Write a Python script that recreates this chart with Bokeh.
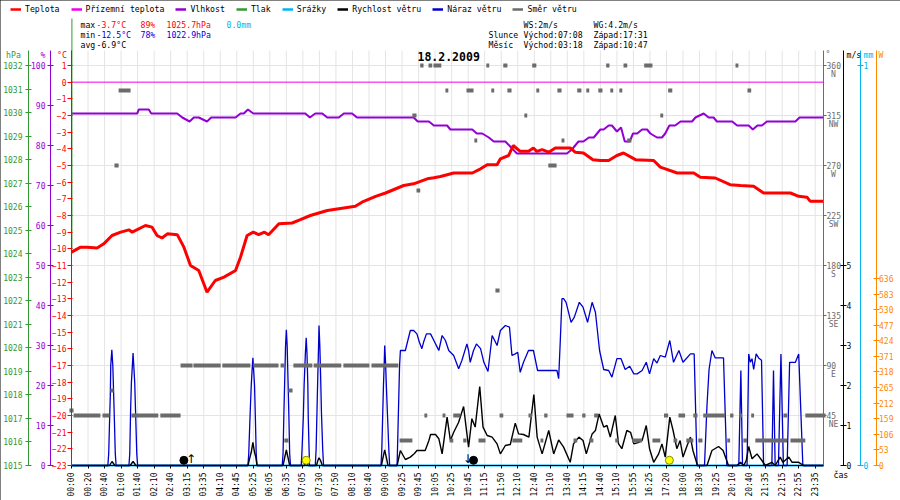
import math
from bokeh.plotting import figure
from bokeh.models import (Range1d, LinearAxis, FixedTicker, Label, Legend,
                          LegendItem)
from bokeh.embed import file_html
from bokeh.resources import INLINE
from bokeh.core.properties import value

# ------------------------------------------------------------------ data
time_labels = ["00:00", "00:20", "00:40", "01:00", "01:40", "02:10", "02:40", "03:15",
               "03:35", "04:10", "04:45", "05:25", "06:05", "06:35", "07:05", "07:30",
               "07:50", "08:10", "08:40", "09:00", "09:25", "09:45", "10:05", "10:25",
               "10:45", "11:15", "11:50", "12:10", "12:40", "13:10", "13:40", "14:15",
               "14:40", "15:10", "15:55", "16:25", "17:20", "18:00", "18:30", "19:25",
               "20:10", "20:40", "21:35", "22:15", "22:55", "23:35"]
SAMPLES_PER_TICK = 4   # x is the sample number, one label every 4 samples
N_SAMPLES = 182

temp_s = [0, 2.2, 3.8, 6.2, 7.8, 9.8, 11.9, 13.9, 14.7, 17.9, 19.5, 20.7, 21.9, 23.2, 25.6,
          27.2, 28.8, 30.8, 32.8, 34.8, 36.9, 39.7, 40.9, 42.5, 44.0, 45.3, 46.7, 47.7, 50.2,
          53.4, 55.4, 57.8, 61.9, 65.9, 68.7, 70.3, 73.6, 76.0, 80.4, 82.8, 86.1, 87.7, 89.3,
          92.5, 97.0, 99.0, 100.6, 103.0, 103.8, 105.8, 106.9, 108.6, 110.6, 111.8, 112.6,
          113.9, 115.5, 117.1, 120.7, 121.9, 123.9, 126.2, 128.0, 130.0, 132.0, 133.6, 136.5,
          140.9, 142.5, 146.6, 150.6, 152.2, 155.8, 159.4, 161.9, 165.1, 167.5, 174.0, 176.0,
          178.0, 178.8, 182]
temp_c = [-10.2, -9.9, -9.9, -9.95, -9.7, -9.2, -9.0, -8.86, -9.0, -8.6, -8.7, -9.2, -9.35,
          -9.1, -9.15, -9.9, -11.0, -11.3, -12.6, -11.9, -11.7, -11.3, -10.5, -9.2, -9.0,
          -9.15, -9.0, -9.15, -8.5, -8.45, -8.25, -8.0, -7.7, -7.55, -7.45, -7.2, -6.85,
          -6.65, -6.2, -6.1, -5.8, -5.74, -5.66, -5.45, -5.45, -5.2, -4.95, -4.95, -4.6,
          -4.4, -3.8, -4.15, -4.15, -3.95, -4.15, -4.05, -4.2, -3.95, -3.95, -4.2, -4.25,
          -4.65, -4.7, -4.7, -4.4, -4.25, -4.65, -4.7, -5.1, -5.45, -5.45, -5.7, -5.75,
          -6.15, -6.2, -6.25, -6.65, -6.65, -6.85, -6.9, -7.15, -7.15]

hum_s = [0, 15.9, 16.3, 18.7, 19.3, 25.6, 26.8, 28.6, 29.6, 30.8, 32.8, 33.8, 39.7, 40.9,
         41.7, 42.7, 44.0, 56.6, 57.7, 59.0, 60.7, 61.9, 64.7, 65.9, 67.9, 69.1, 82.8, 83.8,
         86.5, 87.7, 90.9, 91.7, 97.0, 98.1, 99.4, 101.0, 102.2, 105.0, 107.8, 119.9, 121.1,
         122.7, 123.9, 125.2, 126.4, 128.0, 128.8, 130.0, 130.8, 132.0, 133.0, 133.9, 135.1,
         135.9, 136.9, 138.1, 139.3, 140.1, 141.7, 142.9, 143.7, 144.7, 146.1, 147.4, 150.2,
         151.0, 153.0, 154.2, 155.4, 156.2, 159.9, 161.1, 163.9, 164.9, 166.0, 167.1, 168.3,
         175.2, 176.2, 182]
hum_pct = [88, 88, 89, 89, 88, 88, 87, 86, 87, 87, 86, 87, 87, 88, 88, 89, 88, 88, 87, 88,
           88, 87, 87, 88, 88, 87, 87, 86, 86, 85, 85, 84, 84, 83, 83, 82, 81, 81, 78, 78,
           79, 81, 81, 82, 82, 84, 84, 85, 85, 83.5, 84.5, 81, 81, 83, 83, 84, 84, 83, 82, 82,
           83, 85, 85, 86, 86, 87, 88, 87, 87, 86, 86, 85, 85, 84, 85, 85, 86, 86, 87, 87]

gust_s = [0, 8.8, 9.0, 9.2, 9.4, 9.5, 9.76, 10.0, 10.2, 10.4, 10.6, 10.8,
          13.9, 14.1, 14.3, 14.5, 14.7, 14.9, 15.1, 15.3, 15.5, 15.8, 16.0,
          42.7, 42.9, 43.2, 43.5, 43.7, 43.9, 44.1, 44.3, 44.5, 44.7, 44.9,
          51.0, 51.2, 51.4, 51.6, 51.8, 52.0, 52.2, 52.4, 52.6, 52.8, 53.0,
          55.6, 55.8, 56.1, 56.3, 56.6, 56.8, 57.0, 57.2, 57.3, 57.5, 57.6,
          59.0, 59.2, 59.4, 59.6, 59.8, 59.9, 60.1, 60.3, 60.5, 60.8, 61.0,
          74.9, 75.1, 75.3, 75.5, 75.7, 75.8, 76.0, 76.2, 76.5, 76.8, 77.0,
          78.8, 79.4, 79.6, 80.8, 82.0, 82.8, 83.6, 84.2, 84.8, 85.2, 85.9, 86.9, 87.7, 88.5,
          88.9, 89.7, 90.5, 91.3, 92.5, 93.7, 94.5, 95.7, 96.1, 96.5, 97.3, 98.0, 99.0, 99.8,
          100.8, 101.8, 102.3, 103.0, 103.8, 105.0, 106.0, 106.6, 107.4, 108.0, 108.6, 109.4,
          110.6, 111.8, 112.8, 117.5, 117.9, 118.3, 118.7, 119.1, 119.7, 120.9, 121.7, 122.9,
          123.8, 124.9, 126.0, 126.8, 127.8, 128.8, 130.0, 130.8, 132.0, 133.0, 134.0, 135.1,
          136.1, 136.9, 138.1, 139.1, 139.9, 140.9, 141.7, 142.5, 143.7, 144.8, 145.7, 147.0,
          148.0, 149.8, 150.7, 151.4, 153.2, 153.8, 154.3, 155.0, 155.8, 157.8, 158.6, 161.5,
          162.0, 162.4, 163.5, 163.9, 164.3, 164.7, 165.1, 165.7, 166.3, 167.0, 167.5, 169.5,
          169.9, 170.3, 171.1, 171.7, 172.3, 173.2, 173.8, 175.2, 176.0, 177.0, 182]
gust_ms = [0, 0, 0.29, 1.06, 1.79, 2.5, 2.89, 2.5, 1.79, 1.06, 0.29, 0,
           0, 0.29, 1.36, 2.08, 2.44, 2.81, 2.44, 2.08, 1.36, 0.29, 0,
           0, 0.3, 1.2, 2.0, 2.36, 2.69, 2.36, 2.0, 1.2, 0.3, 0,
           0, 0.3, 1.29, 2.13, 2.98, 3.39, 2.98, 2.13, 1.29, 0.3, 0,
           0, 0.4, 1.2, 2.0, 2.79, 3.19, 2.79, 2.0, 1.2, 0.4, 0,
           0, 0.4, 1.3, 2.2, 3.0, 3.5, 3.0, 2.2, 1.3, 0.4, 0,
           0, 0.4, 1.2, 2.0, 2.6, 3.0, 2.6, 2.0, 1.2, 0.4, 0,
           0, 2.5, 2.875, 2.875, 3.375, 3.375, 3.29, 3.08, 2.92, 3.08, 3.29, 3.29, 3.125, 2.96,
           2.875, 3.25, 3.125, 2.875, 2.75, 2.42, 2.63, 3.04, 2.875, 2.58, 2.875, 3.04, 2.92,
           2.58, 2.35, 3.25, 3.15, 3.0, 3.375, 3.5, 3.46, 2.75, 2.79, 2.83, 2.33, 2.58, 2.875,
           2.875, 2.375, 2.375, 2.17, 3.125, 4.17, 4.17, 4.08, 3.58, 3.71, 4.08, 3.96, 3.58,
           4.08, 3.83, 2.875, 2.40, 2.375, 2.21, 2.67, 2.67, 2.40, 2.48, 2.29, 2.29, 2.375,
           2.58, 2.29, 2.67, 2.56, 2.75, 2.71, 3.125, 2.58, 2.875, 2.58, 2.79, 2.79, 0, 0, 1.5,
           2.4, 2.875, 2.69, 2.69, 0, 0, 2.375, 0, 0, 2.79, 2.58, 2.67, 2.40, 2.79, 2.69, 2.63,
           0, 0, 2.375, 0, 0, 2.79, 0, 0, 2.58, 2.58, 2.79, 0, 0]

wind_s = [0, 9.2, 9.8, 10.5, 14.2, 14.9, 15.6, 42.7, 43.2, 43.5, 43.9, 44.3, 44.6, 44.9,
          51.2, 51.6, 52.0, 52.4, 52.8, 56.3, 56.8, 57.3, 59.3, 59.6, 59.9, 60.3, 60.7, 75.0,
          75.4, 75.8, 76.2, 76.6, 78.8, 79.6, 80.8, 82.0, 83.0, 83.6, 85.6, 86.5, 86.9, 88.1,
          88.9, 89.7, 90.9, 91.7, 92.5, 93.7, 94.9, 95.5, 96.1, 96.9, 97.7, 98.8, 99.6, 100.6,
          101.8, 103.0, 103.8, 105.0, 106.2, 107.4, 108.2, 109.4, 110.7, 111.9, 112.7, 113.9,
          115.5, 116.7, 117.9, 119.1, 120.7, 121.5, 122.8, 123.8, 124.6, 126.0, 126.8, 127.7,
          128.8, 129.6, 130.4, 131.6, 132.4, 133.2, 134.4, 135.3, 136.1, 137.3, 138.1, 139.1,
          139.9, 140.9, 142.1, 142.9, 143.7, 144.8, 145.6, 146.5, 147.3, 148.0, 149.0, 149.8,
          150.4, 151.5, 153.8, 155.0, 156.6, 157.7, 159.0, 161.0, 161.9, 162.7, 163.3, 163.9,
          164.7, 165.9, 167.1, 167.9, 169.5, 170.3, 171.5, 172.2, 173.6, 174.4, 176.0, 177.2,
          182]
wind_ms = [0, 0, 0.1, 0, 0, 0.1, 0, 0, 0.21, 0.33, 0.58, 0.33, 0.21, 0, 0, 0.2, 0.39, 0.2, 0,
           0, 0.06, 0, 0, 0.12, 0.19, 0.12, 0, 0, 0.2, 0.39, 0.2, 0, 0, 0.375, 0.15, 0.21, 0.3,
           0.375, 0.375, 0.625, 0.775, 0.775, 0.67, 0.29, 1.21, 0.625, 0.83, 1.08, 1.475, 0.96,
           0.46, 1.17, 0.96, 1.975, 0.96, 0.75, 0.71, 0.54, 0.29, 0.5, 0.525, 1.06, 0.79, 0.775,
           0.71, 1.775, 0.71, 0.29, 0.875, 0.29, 0.64, 0.46, 0.08, 0.54, 0.71, 0.625, 0.29,
           0.79, 0.875, 1.29, 0.96, 1.0, 0.71, 1.25, 0.54, 0.42, 0.875, 0.83, 0.54, 0.58, 0.625,
           1.0, 0.42, 0.08, 0.29, 0.54, 0.21, 1.21, 0.875, 0.42, 0.625, 0.21, 0.5, 0.71, 0.375,
           0, 0, 0.375, 0.475, 0.375, 0, 0, 0.08, 0, 0.125, 0.475, 0.17, 0.29, 0.125, 0, 0.08,
           0, 0.21, 0.08, 0.21, 0.08, 0.08, 0, 0]

# wind direction: runs of samples (start, end) with the same direction in degrees
dir_start = [-0.5, 0.5, 7.5, 9.4, 10.4, 11.4, 14.5, 21.5, 26.4, 29.5, 36.5, 44.0, 50.6, 51.5,
             52.5, 53.7, 58.6, 65.8, 72.6, 79.4, 82.5, 83.5, 84.4, 85.4, 86.4, 87.6, 89.8,
             90.5, 91.5, 92.4, 94.8, 95.6, 97.5, 98.5, 100.4, 101.6, 102.6, 103.6, 104.5, 105.5,
             106.7, 109.6, 110.6, 111.5, 112.5, 113.5, 114.4, 115.4, 117.6, 118.6, 119.8, 121.5,
             122.4, 123.6, 124.6, 125.3, 126.5, 127.5, 129.4, 130.4, 131.6, 132.6, 133.6, 134.5,
             135.7, 138.6, 140.6, 142.5, 143.4, 144.4, 145.7, 146.9, 148.8, 150.5, 151.7, 152.9,
             158.7, 159.4, 160.7, 161.6, 162.6, 163.6, 164.5, 165.5, 172.3, 174.0, 177.6]
dir_end = [0.5, 7.0, 9.2, 10.2, 11.4, 14.3, 21.0, 26.4, 29.3, 36.1, 43.3, 50.1, 51.5, 52.5,
           53.5, 58.3, 65.3, 72.1, 79.1, 82.5, 83.5, 84.4, 85.2, 86.1, 87.3, 89.5, 90.5, 91.2,
           92.4, 94.1, 95.6, 97.3, 98.2, 100.2, 101.1, 102.3, 103.6, 104.5, 105.5, 106.5, 109.1,
           110.3, 111.5, 112.5, 113.2, 114.2, 115.2, 117.4, 118.6, 119.3, 121.5, 122.4, 123.4,
           124.4, 125.3, 126.3, 127.5, 128.5, 130.2, 131.1, 132.4, 133.3, 134.5, 135.5, 138.1,
           140.6, 142.5, 143.2, 144.4, 145.4, 146.6, 148.5, 150.5, 151.5, 152.7, 158.2, 159.4,
           160.2, 161.4, 162.3, 163.5, 164.5, 165.2, 173.2, 173.2, 177.6, 182.5]
dir_deg = [49.5, 45, 45, 67.5, 270, 337.5, 45, 45, 90, 90, 90, 90, 90, 22.5, 67.5, 90, 90, 90,
           90, 22.5, 315, 247.5, 360, 45, 360, 360, 45, 337.5, 22.5, 45, 22.5, 337.5, 292.5,
           22.5, 360, 337.5, 157.5, 45, 360, 337.5, 22.5, 315, 45, 360, 337.5, 22.5, 45, 270,
           337.5, 292.5, 45, 22.5, 337.5, 45, 337.5, 22.5, 45, 337.5, 360, 337.5, 22.5, 337.5,
           360, 292.5, 22.5, 360, 22.5, 315, 45, 337.5, 22.5, 45, 22.5, 45, 22.5, 45, 22.5, 45,
           360, 45, 22.5, 337.5, 45, 22.5, 45, 22.5, 45]

ground_s = [0, 182]
ground_c = [0.0, 0.0]
rain_s = [0, 182]
rain_mm = [0.0, 0.0]
pres_s = [0.1, 0.1]
pres_hpa = [1024.2, 1034.0]

# sun / moon rise and set (sample position)
event_s = [27.2, 56.8, 97.3, 144.7]
event_body = ["moon", "sun", "moon", "sun"]
arrow_s = [28.9, 95.9]
arrow_sym = ["\u2191", "\u2193"]

date_txt = "18.2.2009"
t_max, t_min, t_avg = -3.7, -12.5, -6.9
h_max, h_min = 89, 78
p_max, p_min = 1025.7, 1022.9
rain_total = 0.0
ws_max, wg_max = 2, 4.2
sun_rise, sun_set = "07:08", "17:31"
moon_rise, moon_set = "03:18", "10:47"

compass = [(360, "N"), (315, "NW"), (270, "W"), (225, "SW"), (180, "S"), (135, "SE"),
           (90, "E"), (45, "NE")]

# value span of every scale across the plotting area (bottom, top)
SPAN_TEMP = (-23, 1.9)
SPAN_HUM = (0, 103.75)
SPAN_PRES = (1015, 1032.64)
SPAN_DIR = (0, 373.5)
SPAN_WS = (0, 10.375)
SPAN_MM = (0, 1.0375)
SPAN_W = (0, 1411.4)

# ------------------------------------------------------------------ layout / styling
FONT = "DejaVu Sans Mono"
C_TEMP = "#ff0000"
C_GROUND = "#ee00ee"
C_HUM = "#9400d3"
C_PRES = "#339933"
C_RAIN = "#00b4f0"
C_GUST = "#0000cc"
C_DIR = "#6b6b6b"
C_W = "#ff8800"
C_MIN = "#0000dd"
GRID = "#e4e4e4"

W, H = 900, 500
PLOT_L, PLOT_R, PLOT_T, PLOT_B = 71, 823, 50, 465     # plotting area in canvas pixels
AX_PX = {"pres": 28, "hum": 50, "temp": 71, "dir": 823, "ws": 843, "mm": 860, "w": 875.5}

SPX = N_SAMPLES / (PLOT_R - PLOT_L)


def s_at(px):
    return (px - PLOT_L) * SPX


def full_range(span):
    lo, hi = span
    u = (hi - lo) / (PLOT_B - PLOT_T)
    return Range1d(lo - (H - PLOT_B) * u, hi + PLOT_T * u)


p = figure(width=W, height=H, output_backend="svg", toolbar_location=None,
           x_range=Range1d(s_at(0), s_at(W)), y_range=full_range(SPAN_TEMP),
           min_border=0, min_border_left=0, min_border_right=0,
           min_border_top=0, min_border_bottom=0)
p.styles = {"outline": "1px solid black", "outline-offset": "-1px"}
p.outline_line_color = None
p.grid.visible = False
p.extra_y_ranges = {"hum": full_range(SPAN_HUM), "pres": full_range(SPAN_PRES),
                    "dir": full_range(SPAN_DIR), "ws": full_range(SPAN_WS),
                    "mm": full_range(SPAN_MM), "w": full_range(SPAN_W)}

# grid lines restricted to the plotting area
xticks = [i * SAMPLES_PER_TICK for i in range(len(time_labels))]
gy = [1, -2, -5, -8, -11, -14, -17, -20]
p.segment(x0=xticks, y0=[SPAN_TEMP[0]] * len(xticks), x1=xticks,
          y1=[SPAN_TEMP[1]] * len(xticks), line_color=GRID, line_width=1)
p.segment(x0=[0] * len(gy), y0=gy, x1=[N_SAMPLES] * len(gy), y1=gy,
          line_color=GRID, line_width=1)

# x axis
xa = p.xaxis[0]
xa.fixed_location = SPAN_TEMP[0]
xa.bounds = (0, N_SAMPLES)
xa.ticker = FixedTicker(ticks=xticks)
xa.major_label_overrides = {t: lab for t, lab in zip(xticks, time_labels)}
xa.major_label_orientation = math.pi / 2
xa.major_label_text_font = FONT
xa.major_label_text_font_size = "8px"
xa.major_label_text_color = "black"
xa.major_tick_in = 0
xa.major_tick_out = 3
xa.major_label_standoff = 4
xa.minor_tick_line_color = None
xa.axis_line_color = "black"


def style_axis(ax, color, ticks, standoff, tick_in=3, tick_out=3):
    ax.ticker = FixedTicker(ticks=ticks)
    ax.axis_line_color = color
    ax.major_tick_line_color = color
    ax.major_label_text_color = color
    ax.major_label_text_font = FONT
    ax.major_label_text_font_size = "8px"
    ax.minor_tick_line_color = None
    ax.major_tick_in = tick_in
    ax.major_tick_out = tick_out
    ax.major_label_standoff = standoff


ya = p.yaxis[0]
ya.fixed_location = s_at(AX_PX["temp"])
ya.bounds = SPAN_TEMP
style_axis(ya, C_TEMP, list(range(-23, 2)), 1, tick_in=1, tick_out=4)


def extra_axis(name, side, span, color, ticks, standoff, tick_in=3, tick_out=3):
    ax = LinearAxis(y_range_name=name, fixed_location=s_at(AX_PX[name]), bounds=span)
    style_axis(ax, color, ticks, standoff, tick_in, tick_out)
    p.add_layout(ax, side)
    return ax


extra_axis("hum", "left", SPAN_HUM, C_HUM, list(range(0, 101, 10)), 2)
extra_axis("pres", "left", SPAN_PRES, C_PRES, list(range(1015, 1033)), 3)
extra_axis("dir", "right", SPAN_DIR, C_DIR, [d for d, _ in compass], 0, tick_in=0)
extra_axis("ws", "right", SPAN_WS, "black", list(range(0, 6)), 0)
extra_axis("mm", "right", SPAN_MM, C_RAIN, [0, 1], 0)
extra_axis("w", "right", SPAN_W, C_W, list(range(0, 637, 53)), 0)

# ------------------------------------------------------------------ series
r_ground = p.line(ground_s, ground_c, color=C_GROUND, line_width=1)
r_rain = p.line(rain_s, rain_mm, y_range_name="mm", color=C_RAIN, line_width=2)
r_gust = p.line(gust_s, gust_ms, y_range_name="ws", color=C_GUST, line_width=1.3)
r_wind = p.line(wind_s, wind_ms, y_range_name="ws", color="black", line_width=1.4)
r_hum = p.line(hum_s, hum_pct, y_range_name="hum", color=C_HUM, line_width=2)
r_temp = p.line(temp_s, temp_c, color=C_TEMP, line_width=3)
dir_x = [(a + b) / 2 for a, b in zip(dir_start, dir_end)]
dir_w = [b - a for a, b in zip(dir_start, dir_end)]
r_dir = p.rect(x=dir_x, y=dir_deg, width=dir_w, height=4, height_units="screen",
               y_range_name="dir", fill_color=C_DIR, line_color=None)
ev_fill = ["black" if b == "moon" else "#ffff00" for b in event_body]
ev_line = ["black" if b == "moon" else "#8a8a00" for b in event_body]
p.scatter(x=event_s, y=[0.13] * len(event_s), y_range_name="ws", size=8,
          fill_color=ev_fill, line_color=ev_line, line_width=1)
p.text(x=arrow_s, y=[0, 0], text=arrow_sym, y_range_name="ws",
       text_font=value("DejaVu Sans"), text_font_size="12px", text_baseline="bottom",
       text_align="center", text_color="black")
r_pres = p.line(pres_s, pres_hpa, y_range_name="pres", color=C_PRES, line_width=1)

# ------------------------------------------------------------------ legend
TXT = "8.2px"
LH = 1.164 * 8.2
NAN = float("nan")

leg_specs = [("Teplota", C_TEMP), ("P\u0159\u00edzemn\u00ed teplota", C_GROUND),
             ("Vlhkost", C_HUM), ("Tlak", C_PRES), ("Sr\u00e1\u017eky", C_RAIN),
             ("Rychlost v\u011btru", "black"), ("N\u00e1raz v\u011btru", C_GUST),
             ("Sm\u011br v\u011btru", C_DIR)]
items = []
for lab, col in leg_specs:
    # legend sample line (a single undefined point, so nothing is drawn in the plot)
    rr = p.line(x=[NAN], y=[NAN], color=col, line_width=2.5)
    items.append(LegendItem(label=lab, renderers=[rr]))
legend = Legend(items=items, location=(10, H - 9 - LH / 2),
                orientation="horizontal", glyph_width=11, glyph_height=8,
                label_standoff=4, spacing=11, padding=0, margin=0,
                border_line_color=None, background_fill_alpha=0,
                label_text_font=FONT, label_text_font_size=TXT, label_height=8,
                label_width=1, label_text_color="black")
p.add_layout(legend)


def add_text(text, x, y_mid, color="black", size=TXT, style="normal", align="left"):
    p.add_layout(Label(x=x, y=H - y_mid, x_units="screen", y_units="screen", text=text,
                       text_color=color, text_font=FONT, text_font_size=size,
                       text_font_style=style, text_align=align, text_baseline="middle"))


add_text("max", 80, 24)
add_text(f"{t_max}\u00b0C", 96, 24, C_TEMP)
add_text(f"{h_max}%", 140, 24, C_TEMP)
add_text(f"{p_max}hPa", 166, 24, C_TEMP)
add_text(f"{rain_total:.1f}mm", 226, 24, C_RAIN)
add_text("min", 80, 34)
add_text(f"{t_min}\u00b0C", 96, 34, C_MIN)
add_text(f"{h_min}%", 140, 34, C_MIN)
add_text(f"{p_min}hPa", 166, 34, C_MIN)
add_text("avg", 80, 44)
add_text(f"{t_avg}\u00b0C", 96, 44)
add_text(f"WS:{ws_max}m/s", 523, 24)
add_text(f"WG:{wg_max}m/s", 593, 24)
add_text("Slunce", 488, 34)
add_text(f"V\u00fdchod:{sun_rise}", 523, 34)
add_text(f"Z\u00e1pad:{sun_set}", 593, 34)
add_text("M\u011bs\u00edc", 488, 44)
add_text(f"V\u00fdchod:{moon_rise}", 523, 44)
add_text(f"Z\u00e1pad:{moon_set}", 593, 44)

add_text(date_txt, 417, 56, size="11.5px", style="bold")

# axis units
add_text("hPa", 13, 54.5, C_PRES, align="center")
add_text("%", 42.5, 54.5, C_HUM, align="center")
add_text("\u00b0C", 61.5, 54.5, C_TEMP, align="center")
add_text("\u00b0", 825, 53, C_DIR)
add_text("m/s", 846, 54.5, "black")
add_text("mm", 863, 54.5, C_RAIN)
add_text("W", 878, 54.5, C_W)
add_text("\u010das", 833, 474, "black")

# compass names under the direction tick labels
for deg, name in compass:
    p.add_layout(Label(x=833, x_units="screen", y=deg, y_range_name="dir", y_offset=-8.5,
                       text=name, text_color=C_DIR, text_font=FONT, text_font_size="8px",
                       text_align="center", text_baseline="middle"))

open("out.html", "w").write(file_html(p, INLINE))
